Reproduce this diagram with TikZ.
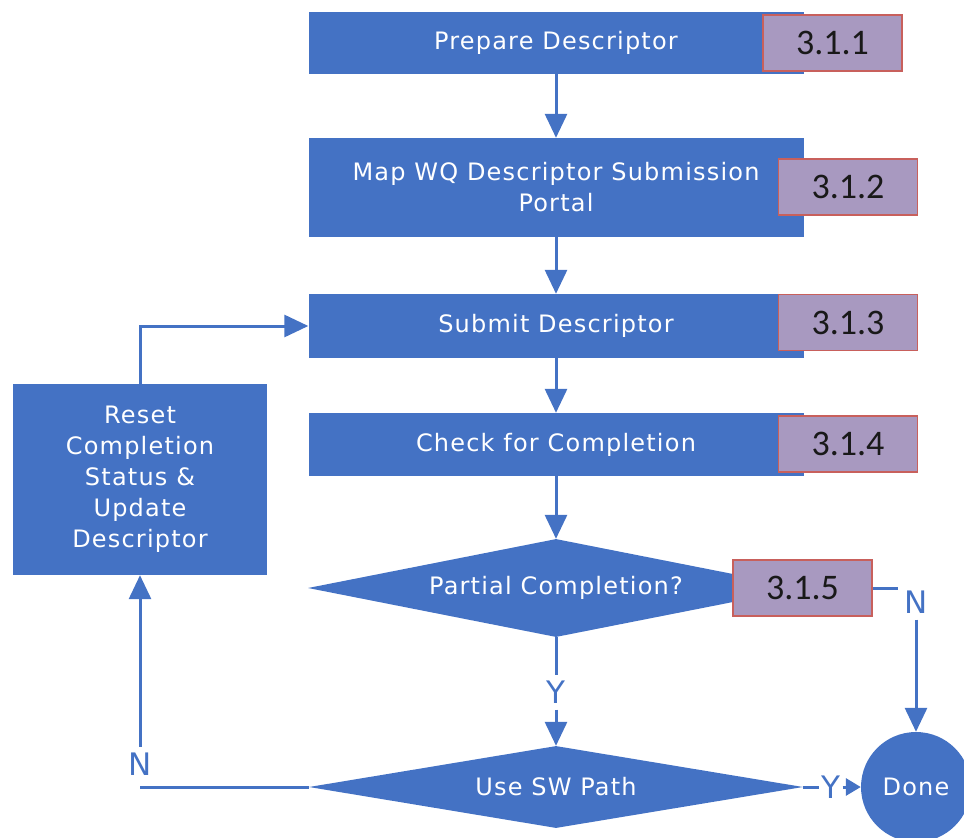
\documentclass[tikz,border=0pt]{standalone}
\usepackage{fontspec}
\setmainfont{DejaVu Sans}[LetterSpace=5]
\newfontfamily\tagfont{Carlito}
\newfontfamily\labfont{DejaVu Sans}
\usetikzlibrary{shapes.geometric,arrows.meta}
\definecolor{boxblue}{HTML}{4472C4}
\definecolor{taglila}{HTML}{A899C0}
\definecolor{tagred}{HTML}{C8605C}

\begin{document}
\begin{tikzpicture}[x=1pt,y=-1pt,
  stepbox/.style={rectangle,fill=boxblue,text=white,minimum width=495pt,inner sep=0pt,align=center,font=\fontsize{24}{31}\selectfont},
  decide/.style={diamond,aspect=5.5,fill=boxblue,text=white,inner sep=0pt,font=\fontsize{24}{31}\selectfont},
  tagbox/.style={rectangle,fill=taglila,draw=tagred,line width=1.5pt,minimum width=139pt,minimum height=56pt,inner sep=0pt,text=black!90,font=\tagfont\fontsize{36}{40}\selectfont},
  lab/.style={text=boxblue,inner sep=6pt,font=\labfont\fontsize{31}{34}\selectfont},
  link/.style={boxblue,line width=3pt},
  flow/.style={link,-{Triangle[length=24pt,width=22pt]}}]
  \useasboundingbox (0,0) rectangle (964,838);
  % 主流程
  \node[stepbox,minimum height=62pt] (prep) at (556,43) {Prepare Descriptor};
  \node[stepbox,minimum height=99pt] (map) at (556,187.5) {Map WQ Descriptor Submission\\Portal};
  \node[stepbox,minimum height=64pt] (submit) at (556,326) {Submit Descriptor};
  \node[stepbox,minimum height=63pt] (check) at (556,444.5) {Check for Completion};
  \node[decide,minimum width=496pt,minimum height=98pt] (partial) at (556,588) {Partial Completion?};
  \node[decide,minimum width=494pt,minimum height=82pt] (usesw) at (556,787) {Use SW Path};
  \node[circle,fill=boxblue,text=white,inner sep=0pt,minimum size=110pt,font=\fontsize{24}{31}\selectfont] (done) at (916,787) {Done};
  \node[stepbox,minimum width=254pt,minimum height=191pt] (reset) at (140,479.5) {Reset\\Completion\\Status \&\\Update\\Descriptor};
  % 标签
  \node[lab] (ya) at (556,692) {Y};
  \node[lab] (na) at (916,602) {N};
  \node[lab,inner sep=2pt] (yb) at (831,787) {Y};
  \node[lab] (nb) at (140,764) {N};
  \draw[flow] (prep) -- (map);
  \draw[flow] (map) -- (submit);
  \draw[flow] (submit) -- (check);
  \draw[flow] (check) -- (partial);
  \draw[link] (partial) -- (ya);
  \draw[flow] (ya) -- (usesw);
  \draw[link] (partial.east) -- (partial.east -| na.west);
  \draw[flow] (na) -- (done);
  \draw[link] (usesw.east) -- (yb);
  \draw[link,-{Triangle[length=15pt,width=17pt]}] (yb) -- (done);
  \draw[link] (usesw.west) -- (usesw.west -| nb);
  \draw[flow] (nb) -- (reset);
  \draw[flow] (reset.north) |- (submit.west); % 回到提交
  % 编号
  \node[tagbox] (t1) at (832.5,43) {3.1.1};
  \node[tagbox] (t2) at (848,187) {3.1.2};
  \node[tagbox] (t3) at (848,322.5) {3.1.3};
  \node[tagbox] (t4) at (848,444) {3.1.4};
  \node[tagbox] (t5) at (802.5,588) {3.1.5};
\end{tikzpicture}
\end{document}
